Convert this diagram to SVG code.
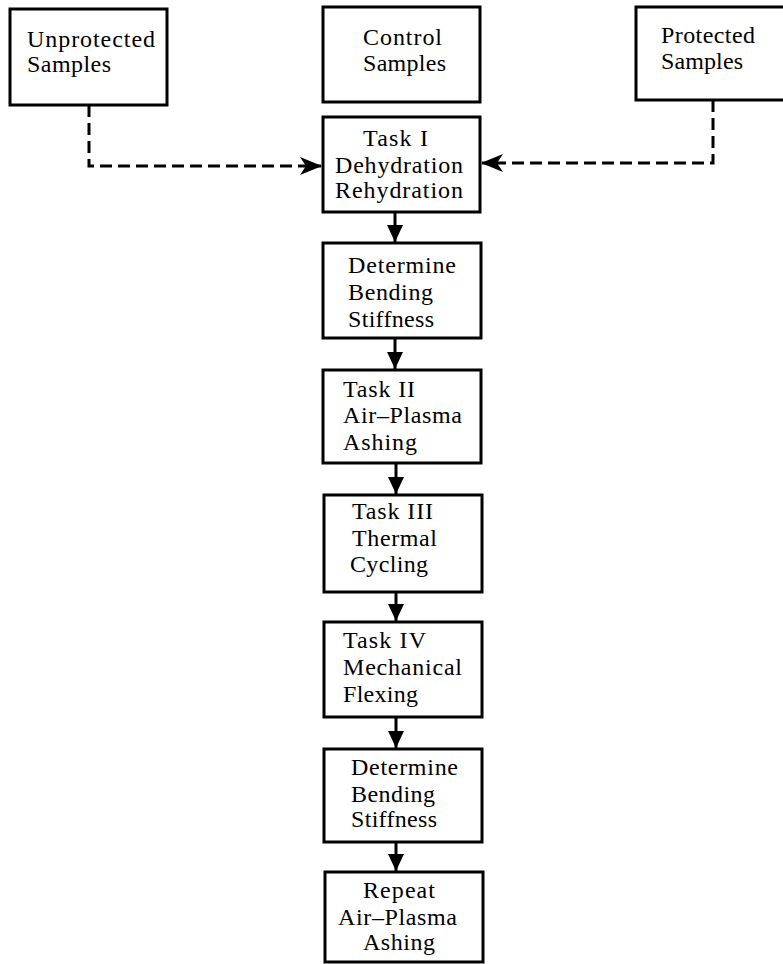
<svg xmlns="http://www.w3.org/2000/svg" width="783" height="964" viewBox="0 0 783 964">
<style>
.box{fill:#fff;stroke:#000;stroke-width:3}
.t{font-family:"Liberation Serif","Times New Roman",serif;font-size:24px;fill:#000}
.solid{stroke:#000;stroke-width:3;fill:none}
.dash{stroke:#000;stroke-width:3;fill:none;stroke-dasharray:12 6}
</style>
<defs>
<marker id="ah" markerWidth="17" markerHeight="17" refX="17" refY="8" orient="auto" markerUnits="userSpaceOnUse" viewBox="0 0 17 16">
<path d="M0,0 L17,8 L0,16 Z" fill="#000"/>
</marker>
<marker id="bh" markerWidth="22" markerHeight="18" refX="21" refY="9" orient="auto" markerUnits="userSpaceOnUse" viewBox="0 0 22 18">
<path d="M0,0 L22,9 L0,18 L6,9 Z" fill="#000"/>
</marker>
</defs>
<g id="connectors">
<path class="dash" d="M89,105 V166 H321" marker-end="url(#bh)"/>
<path class="dash" d="M713,100 V163 H482" marker-end="url(#bh)"/>
<path class="solid" d="M395,212 V242" marker-end="url(#ah)"/>
<path class="solid" d="M395,338 V369" marker-end="url(#ah)"/>
<path class="solid" d="M396,463 V494" marker-end="url(#ah)"/>
<path class="solid" d="M396,592 V621" marker-end="url(#ah)"/>
<path class="solid" d="M396,717 V748" marker-end="url(#ah)"/>
<path class="solid" d="M396,842 V871" marker-end="url(#ah)"/>
</g>
<g id="unprotected">
<rect class="box" x="10" y="9" width="157" height="96"/>
<text class="t" x="27" y="47" textLength="128" lengthAdjust="spacing">Unprotected</text>
<text class="t" x="27" y="72" textLength="84" lengthAdjust="spacing">Samples</text>
</g>
<g id="control">
<rect class="box" x="323" y="7" width="157" height="95"/>
<text class="t" x="363" y="45" textLength="79" lengthAdjust="spacing">Control</text>
<text class="t" x="363" y="71" textLength="83" lengthAdjust="spacing">Samples</text>
</g>
<g id="protected">
<rect class="box" x="636" y="7" width="160" height="93"/>
<text class="t" x="661" y="43" textLength="94" lengthAdjust="spacing">Protected</text>
<text class="t" x="661" y="69" textLength="82" lengthAdjust="spacing">Samples</text>
</g>
<g id="task1">
<rect class="box" x="323" y="117" width="157" height="95"/>
<text class="t" x="363" y="146" textLength="65" lengthAdjust="spacing">Task I</text>
<text class="t" x="335" y="173" textLength="128" lengthAdjust="spacing">Dehydration</text>
<text class="t" x="335" y="198" textLength="128" lengthAdjust="spacing">Rehydration</text>
</g>
<g id="stiffness1">
<rect class="box" x="323" y="243" width="158" height="95"/>
<text class="t" x="348" y="273" textLength="108" lengthAdjust="spacing">Determine</text>
<text class="t" x="348" y="300" textLength="85" lengthAdjust="spacing">Bending</text>
<text class="t" x="348" y="327" textLength="86" lengthAdjust="spacing">Stiffness</text>
</g>
<g id="task2">
<rect class="box" x="323" y="370" width="158" height="93"/>
<text class="t" x="343" y="397" textLength="72" lengthAdjust="spacing">Task II</text>
<text class="t" x="343" y="423" textLength="119" lengthAdjust="spacing">Air–Plasma</text>
<text class="t" x="343" y="450" textLength="74" lengthAdjust="spacing">Ashing</text>
</g>
<g id="task3">
<rect class="box" x="324" y="495" width="158" height="97"/>
<text class="t" x="352" y="519" textLength="81" lengthAdjust="spacing">Task III</text>
<text class="t" x="352" y="546" textLength="85" lengthAdjust="spacing">Thermal</text>
<text class="t" x="350" y="572" textLength="78" lengthAdjust="spacing">Cycling</text>
</g>
<g id="task4">
<rect class="box" x="324" y="622" width="158" height="95"/>
<text class="t" x="343" y="648" textLength="83" lengthAdjust="spacing">Task IV</text>
<text class="t" x="343" y="675" textLength="119" lengthAdjust="spacing">Mechanical</text>
<text class="t" x="343" y="702" textLength="75" lengthAdjust="spacing">Flexing</text>
</g>
<g id="stiffness2">
<rect class="box" x="324" y="749" width="158" height="93"/>
<text class="t" x="351" y="775" textLength="107" lengthAdjust="spacing">Determine</text>
<text class="t" x="351" y="802" textLength="84" lengthAdjust="spacing">Bending</text>
<text class="t" x="351" y="827" textLength="86" lengthAdjust="spacing">Stiffness</text>
</g>
<g id="repeat">
<rect class="box" x="325" y="872" width="158" height="90"/>
<text class="t" x="363" y="898" textLength="72" lengthAdjust="spacing">Repeat</text>
<text class="t" x="338" y="925" textLength="119" lengthAdjust="spacing">Air–Plasma</text>
<text class="t" x="363" y="950" textLength="72" lengthAdjust="spacing">Ashing</text>
</g>
</svg>
